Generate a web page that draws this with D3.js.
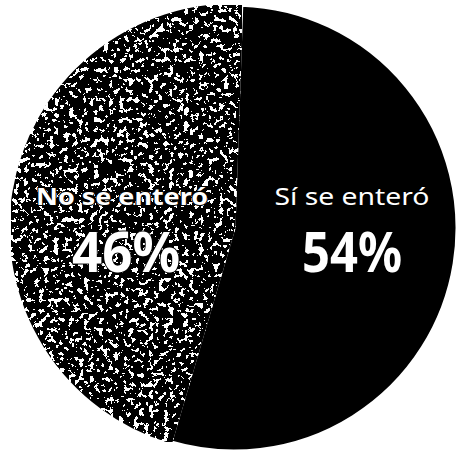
<!DOCTYPE html>
<html>
<head>
<meta charset="utf-8">
<script src="https://cdn.jsdelivr.net/npm/d3@7"></script>
<style>
  body { margin: 0; background: #fff; }
  text { font-family: "Noto Sans", "Open Sans", sans-serif; }
</style>
</head>
<body>
<svg></svg>
<script>
const categories = ["Sí se enteró", "No se enteró"];
const values = [54, 46];
const valueLabels = ["54%", "46%"];

const width = 459, height = 453;
const cx = 234, cy = 228, r = 223;

const svg = d3.select("svg")
  .attr("width", width)
  .attr("height", height)
  .attr("viewBox", [0, 0, width, height]);

// grainy photocopy texture for the grey slice
const defs = svg.append("defs");
const f = defs.append("filter").attr("id", "grain")
  .attr("x", 0).attr("y", 0).attr("width", 1).attr("height", 1);
f.append("feTurbulence")
  .attr("type", "fractalNoise")
  .attr("baseFrequency", 0.2)
  .attr("numOctaves", 4)
  .attr("seed", 11)
  .attr("result", "noise");
f.append("feColorMatrix")
  .attr("in", "noise")
  .attr("type", "matrix")
  .attr("values", "0.33 0.33 0.33 0 0  0.33 0.33 0.33 0 0  0.33 0.33 0.33 0 0  0 0 0 0 1")
  .attr("result", "grey");
const ct = f.append("feComponentTransfer").attr("in", "grey").attr("result", "bw");
["R", "G", "B"].forEach(c => ct.append("feFunc" + c)
  .attr("type", "discrete").attr("tableValues", "0 0 0 0 0 0 0 0 0 0 0 1 1 1 1 1 1 1 1 1"));
f.append("feComposite").attr("in", "bw").attr("in2", "SourceGraphic").attr("operator", "in");

const colors = ["#000", "#666"];

const pie = d3.pie()
  .sort(null)
  .value(d => d)
  .startAngle(2 * Math.PI / 180)
  .endAngle(2 * Math.PI + 2 * Math.PI / 180);

const arc = d3.arc().innerRadius(0).outerRadius(r);

const g = svg.append("g").attr("transform", `translate(${cx},${cy})`);

const arcs = pie(values);

g.selectAll("path")
  .data(arcs)
  .join("path")
  .attr("d", arc)
  .attr("fill", (d, i) => colors[i])
  .attr("filter", (d, i) => i == 1 ? "url(#grain)" : null)
  .attr("stroke", "#fff")
  .attr("stroke-width", 3);

// label positions
const lab = [
  { x: 352, y: 205, size: 24, weight: 400, len: 155 },
  { x: 122, y: 205, size: 24, weight: 700, len: 172 }
];
const pct = [
  { x: 352, y: 272, size: 55, len: 100 },
  { x: 126, y: 272, size: 55, len: 108 }
];

const labels = svg.append("g");
labels.selectAll("text.cat")
  .data(categories)
  .join("text")
  .attr("class", "cat")
  .attr("x", (d, i) => lab[i].x)
  .attr("y", (d, i) => lab[i].y)
  .attr("text-anchor", "middle")
  .attr("font-size", (d, i) => lab[i].size)
  .attr("font-weight", (d, i) => lab[i].weight)
  .attr("textLength", (d, i) => lab[i].len)
  .attr("lengthAdjust", "spacingAndGlyphs")
  .attr("fill", "#fff")
  .attr("stroke", (d, i) => i == 1 ? "#000" : null)
  .attr("stroke-width", 2)
  .attr("paint-order", "stroke")
  .text(d => d);

labels.selectAll("text.pct")
  .data(valueLabels)
  .join("text")
  .attr("class", "pct")
  .attr("x", (d, i) => pct[i].x)
  .attr("y", (d, i) => pct[i].y)
  .attr("text-anchor", "middle")
  .attr("font-size", (d, i) => pct[i].size)
  .attr("font-weight", 700)
  .attr("textLength", (d, i) => pct[i].len)
  .attr("lengthAdjust", "spacingAndGlyphs")
  .attr("fill", "#fff")
  .attr("stroke", (d, i) => i == 1 ? "#000" : null)
  .attr("stroke-width", 2)
  .attr("paint-order", "stroke")
  .text(d => d);
</script>
</body>
</html>
